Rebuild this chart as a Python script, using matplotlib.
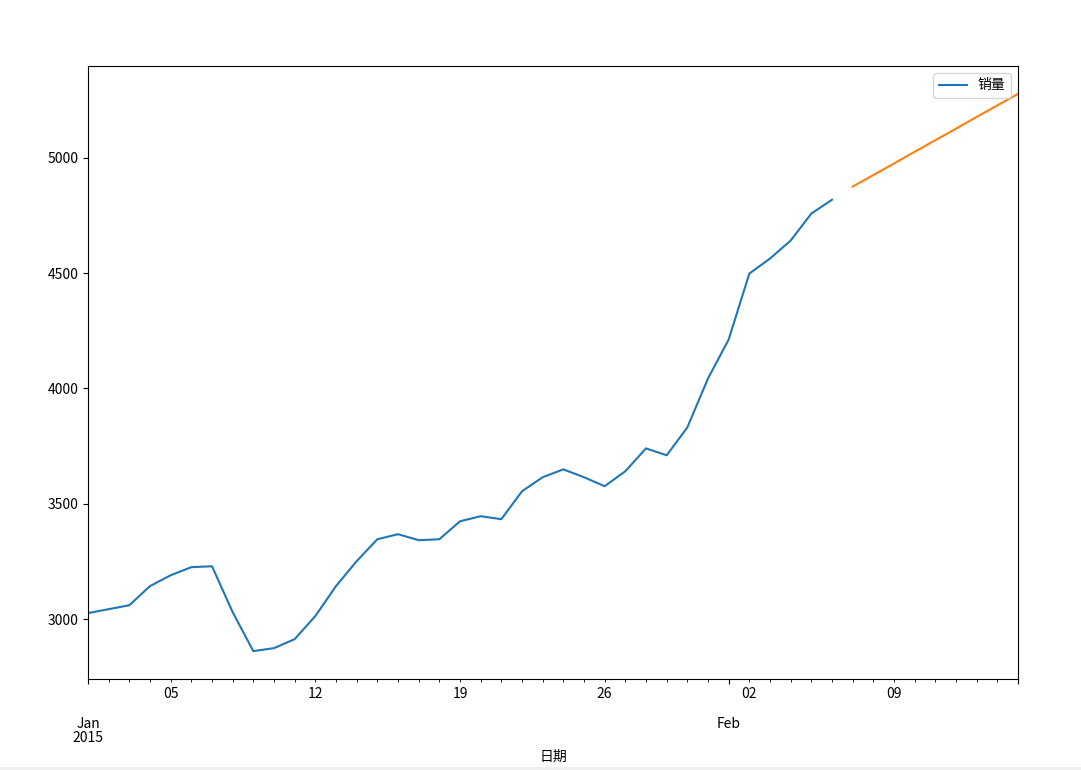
import matplotlib
matplotlib.use("Agg")
import matplotlib.pyplot as plt
import pandas as pd
from matplotlib.patches import Rectangle

plt.rcParams['font.family'] = ['Noto Sans CJK SC', 'DejaVu Sans']
plt.rcParams['axes.unicode_minus'] = False

dates = pd.date_range('2015-01-01', '2015-02-06', freq='D')
sales = [3026, 3043, 3060, 3143, 3190, 3225, 3229, 3030, 2861, 2874,
         2913, 3013, 3143, 3251, 3346, 3368, 3342, 3346, 3424, 3446,
         3433, 3554, 3615, 3649, 3615, 3576, 3641, 3740, 3710, 3831,
         4043, 4212, 4498, 4563, 4641, 4758, 4818]

fc_dates = pd.date_range('2015-02-07', '2015-02-15', freq='D')
forecast = [4875, 4925, 4975, 5026, 5076, 5126, 5177, 5227, 5277]

df = pd.DataFrame({'销量': sales}, index=pd.Index(dates, name='日期'))
fc = pd.Series(forecast, index=pd.Index(fc_dates, name='日期'))

fig = plt.figure(figsize=(10.81, 7.70), dpi=100)
ax = fig.add_axes([88/1081, 1-679/770, (1018-88)/1081, (679-66)/770])
df.plot(ax=ax, color='#1f77b4')
fc.plot(ax=ax, color='#ff7f0e', label='_nolegend_')
ax.set_xlim(pd.Timestamp('2015-01-01'), pd.Timestamp('2015-02-15'))
ax.legend(loc='upper right')
ax.set_xlabel('日期')
ax.xaxis.set_label_coords(0.5, (679 - 750) / 613)

fig.canvas.draw()
for lab in ax.get_xticklabels(minor=True) + ax.get_xticklabels():
    lab.set_linespacing(1.0)

fig.patches.append(Rectangle((0, 0), 1, 3/770, transform=fig.transFigure,
                             facecolor='#f0f0f0', edgecolor='none'))
fig.savefig('out.png', dpi=100)
